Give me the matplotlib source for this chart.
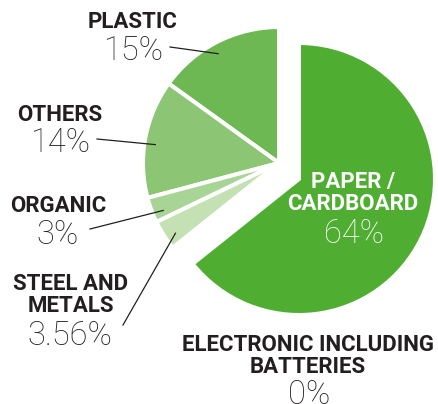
import math

import matplotlib

matplotlib.use("Agg")
import matplotlib.pyplot as plt

categories = [
    "PLASTIC",
    "OTHERS",
    "ORGANIC",
    "STEEL AND\nMETALS",
    "ELECTRONIC INCLUDING\nBATTERIES",
    "PAPER /\nCARDBOARD",
]
shares = [15, 14, 3, 3.56, 0, 64]
colors = ["#6db852", "#8cc573", "#a8d596", "#c3e1b2", "#4fae32", "#4fae32"]

# label layout in pixel units (y up): x centre, last-line baseline of name, percent baseline
name_pos = [(133, 376), (60, 283), (58, 192), (71, 92), (308, 31), (353, 194)]
pct_pos = [(133, 344), (60, 252), (57, 160), (70, 59), (309, 0), (354, 161)]
# leader lines start next to the percent label and run into the wedge
leader_from = [(170, 357), (97, 265), (90, 175), (123, 79), None, None]

W, H = 438, 404
CENTER = (279, 241)
RADIUS = 136
EXPLODE_ANGLE = -38.7  # degrees
EXPLODE_DIST = 25.6
DARK = "#231f20"

fig = plt.figure(figsize=(W / 100, H / 100), dpi=100)
ax = fig.add_axes([0, 0, 1, 1])

wedges, _ = ax.pie(
    shares,
    colors=colors,
    startangle=90,
    counterclock=True,
    center=CENTER,
    radius=RADIUS,
    frame=True,
    wedgeprops=dict(edgecolor="white", linewidth=2.9),
)
ax.set_xlim(0, W)
ax.set_ylim(0, H)
ax.set_aspect("equal")
ax.axis("off")

# pull the paper slice out of the pie
paper = wedges[-1]
dx = EXPLODE_DIST * math.cos(math.radians(EXPLODE_ANGLE))
dy = EXPLODE_DIST * math.sin(math.radians(EXPLODE_ANGLE))
paper.set_center((CENTER[0] + dx, CENTER[1] + dy))

for i, (name, share) in enumerate(zip(categories, shares)):
    inside = i == len(categories) - 1
    color = "white" if inside else DARK
    nx, ny = name_pos[i]
    ax.text(nx, ny, name, ha="center", va="baseline", color=color,
            fontsize=16, fontweight="bold", family="Roboto", linespacing=1.0)
    px, py = pct_pos[i]
    ax.text(px, py, f"{share:g}%", ha="center", va="baseline", color=color,
            fontsize=23.5, fontweight="light", family="Roboto")
    if leader_from[i] is not None:
        w = wedges[i]
        mid = math.radians((w.theta1 + w.theta2) / 2 + 2)
        r = RADIUS * 0.92
        end = (CENTER[0] + r * math.cos(mid), CENTER[1] + r * math.sin(mid))
        ax.plot([leader_from[i][0], end[0]], [leader_from[i][1], end[1]],
                color=DARK, linewidth=0.9)

fig.savefig("out.png", dpi=100)
